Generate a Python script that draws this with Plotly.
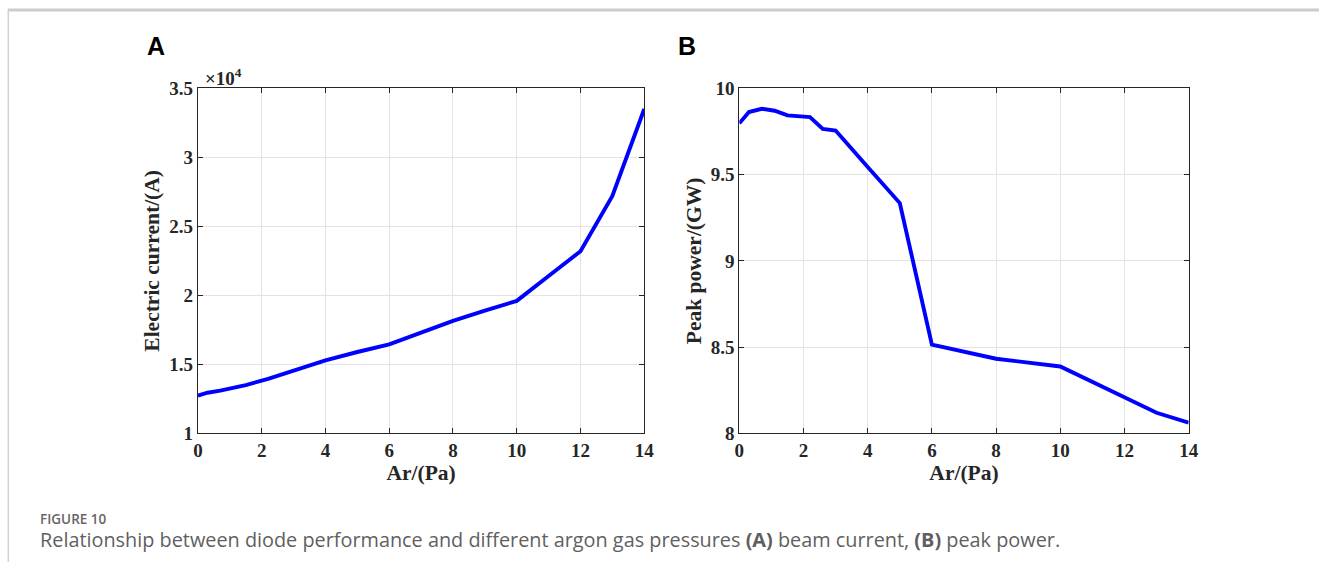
import plotly.graph_objects as go

# Panel A: electric current (x10^4 A) vs Ar pressure
ar_a = [0, 0.3, 0.7, 1, 1.5, 2.2, 3, 4, 5, 6, 7, 8, 9, 10, 11, 12, 13, 14]
current_e4 = [1.275, 1.295, 1.31, 1.325, 1.35, 1.395, 1.455, 1.53, 1.59, 1.645, 1.73, 1.815, 1.89, 1.96, 2.14, 2.32, 2.72, 3.35]

# Panel B: peak power (GW) vs Ar pressure
ar_b = [0, 0.3, 0.7, 1.1, 1.5, 2.2, 2.6, 3, 4, 5, 6, 8, 10, 12, 13, 14]
power_gw = [9.797, 9.862, 9.881, 9.870, 9.843, 9.833, 9.764, 9.755, 9.544, 9.335, 8.515, 8.433, 8.388, 8.211, 8.12, 8.063]

x_ticks = [0, 2, 4, 6, 8, 10, 12, 14]
ya_ticks = [1, 1.5, 2, 2.5, 3, 3.5]
ya_text = ["1", "1.5", "2", "2.5", "3", "3.5"]
yb_ticks = [8, 8.5, 9, 9.5, 10]
yb_text = ["8", "8.5", "9", "9.5", "10"]

W, H = 1329, 573
# map target picture positions to figure pixel positions (page offset/scale compensation)
SX, OX, SY, OY = 0.988, 4.2, 0.96, 11.0
def px(x): return ((x - OX) / SX) / W
def py(y): return 1 - ((y - OY) / SY) / H

fig = go.Figure()
fig.add_trace(go.Scatter(x=ar_a, y=current_e4, mode="lines",
                         line=dict(color="#0000FF", width=3.9), xaxis="x", yaxis="y", showlegend=False))
fig.add_trace(go.Scatter(x=ar_b, y=power_gw, mode="lines",
                         line=dict(color="#0000FF", width=3.9), xaxis="x2", yaxis="y2", showlegend=False))

tick_font = dict(family="Liberation Serif", size=19, color="#262626", weight="bold")
title_font = dict(family="Liberation Serif", size=21.5, color="#262626", weight="bold")
common = dict(showline=True, linecolor="#262626", linewidth=1.2, mirror="ticks",
              ticks="inside", ticklen=5, tickcolor="#262626", tickwidth=1,
              showgrid=True, gridcolor="#e3e3e3", gridwidth=1, zeroline=False,
              tickfont=tick_font)

top, bottom = 89, 433
fig.update_layout(
    width=W, height=H, margin=dict(l=0, r=0, t=0, b=0),
    paper_bgcolor="white", plot_bgcolor="white",
    xaxis=dict(domain=[px(197), px(643)], range=[0, 14], tickvals=x_ticks,
               title=dict(text="Ar/(Pa)", font=title_font, standoff=4), anchor="y", **common),
    yaxis=dict(domain=[py(bottom), py(top)], range=[1, 3.5], tickvals=ya_ticks, ticktext=ya_text,
               title=dict(text="Electric current/(A)", font=title_font, standoff=3), anchor="x", **common),
    xaxis2=dict(domain=[px(738), px(1187)], range=[0, 14], tickvals=x_ticks,
                title=dict(text="Ar/(Pa)", font=title_font, standoff=4), anchor="y2", **common),
    yaxis2=dict(domain=[py(bottom), py(top)], range=[8, 10], tickvals=yb_ticks, ticktext=yb_text,
                title=dict(text="Peak power/(GW)", font=title_font, standoff=3), anchor="x2", **common),
)

annotations = [
    dict(x=px(144), y=py(47), text="<b>A</b>", font=dict(family="Liberation Sans", size=25, color="black")),
    dict(x=px(675), y=py(47), text="<b>B</b>", font=dict(family="Liberation Sans", size=25, color="black")),
    dict(x=px(202), y=py(78), text="<b>×10<sup>4</sup></b>", font=dict(family="Liberation Serif", size=19, color="#262626")),
    dict(x=px(37), y=py(518), text="FIGURE 10", font=dict(family="Open Sans", size=13.5, color="#666666", weight=600)),
    dict(x=px(37), y=py(539),
         text="Relationship between diode performance and different argon gas pressures <b>(A)</b> beam current, <b>(B)</b> peak power.",
         font=dict(family="Open Sans", size=19.85, color="#5f5f5f")),
]
for a in annotations:
    a.update(xref="paper", yref="paper", xanchor="left", yanchor="middle", showarrow=False)
fig.update_layout(annotations=annotations)

fig.update_layout(shapes=[
    dict(type="line", xref="paper", yref="paper", x0=px(7), x1=1, y0=1, y1=1,
         line=dict(color="#cccccc", width=3)),
    dict(type="line", xref="paper", yref="paper", x0=px(7.5), x1=px(7.5), y0=1, y1=0,
         line=dict(color="#d0d0d0", width=1.5)),
])

fig.write_html("out.html")
